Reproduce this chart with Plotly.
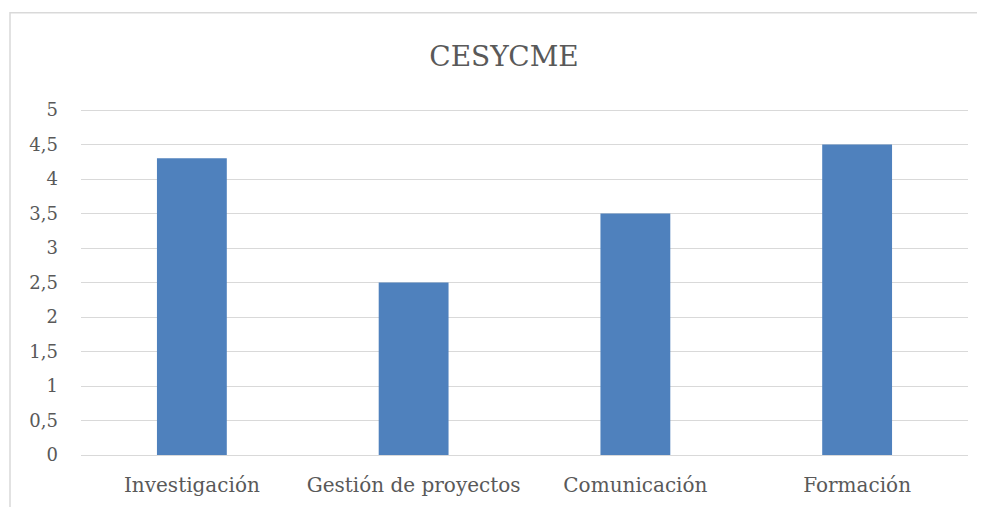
import plotly.graph_objects as go

categories = ["Investigación", "Gestión de proyectos", "Comunicación", "Formación"]
values = [4.3, 2.5, 3.5, 4.5]
tick_vals = [0, 0.5, 1, 1.5, 2, 2.5, 3, 3.5, 4, 4.5, 5]
tick_text = ["0", "0,5", "1", "1,5", "2", "2,5", "3", "3,5", "4", "4,5", "5"]

OFF = 8  # page body margin
YMAX = 5.03
W, H = 985 - OFF, 507 - OFF
ph = 345 * YMAX / 5
L, R, B = 81 - OFF, 17, 52
T = round(455 - ph) - OFF
pw = W - L - R
ph = H - T - B

fig = go.Figure(go.Bar(x=categories, y=values, marker_color="#4F81BD",
                       marker_line_width=0))

font_family = "DejaVu Serif"
fig.update_layout(
    width=W, height=H,
    margin=dict(l=L, r=R, t=T, b=B, autoexpand=False),
    paper_bgcolor="white", plot_bgcolor="white",
    bargap=0.685,
    showlegend=False,
    title=dict(text="CESYCME", x=(504 - OFF) / W, xanchor="center", xref="container",
               y=1 - (56 - OFF) / H, yanchor="middle", yref="container",
               font=dict(family=font_family, size=28, color="#595959")),
    font=dict(family=font_family, color="#595959"),
)
fig.update_yaxes(range=[0, YMAX], tickvals=tick_vals, ticktext=tick_text,
                 showgrid=True, gridcolor="#D9D9D9", gridwidth=1,
                 zeroline=False, showline=False, ticks="", automargin=False,
                 ticklabelstandoff=22,
                 tickfont=dict(family=font_family, size=18, color="#595959"))
fig.update_xaxes(showgrid=False, showline=True, linecolor="#D9D9D9", linewidth=1,
                 ticks="", ticklabelstandoff=12, automargin=False,
                 tickfont=dict(family=font_family, size=20, color="#595959"))

# chart area border (partly cropped in reference)
fig.add_shape(type="rect", xref="paper", yref="paper",
              x0=(10 - 81) / pw, x1=1.3, y0=-0.6, y1=(455 - 12.7) / ph,
              line=dict(color="#D9D9D9", width=1.5), fillcolor="rgba(0,0,0,0)",
              layer="below")

fig.write_html("out.html")
